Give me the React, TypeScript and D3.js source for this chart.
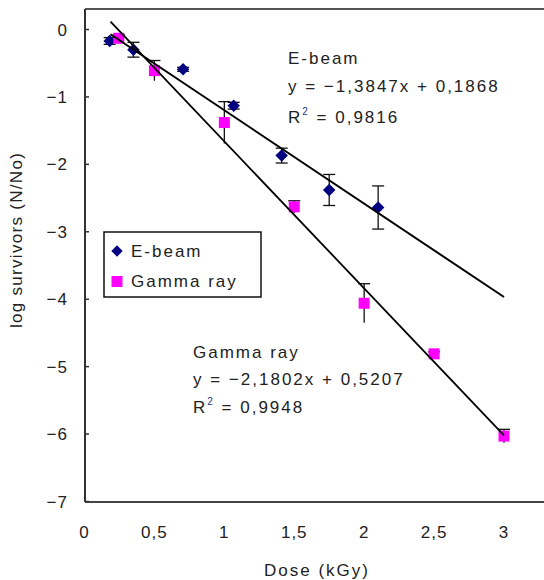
import React from "react";
import * as d3 from "d3";

const ebeamDose = [0.18, 0.35, 0.705, 1.067, 1.41, 1.75, 2.1];
const ebeamLog = [-0.17, -0.3, -0.59, -1.13, -1.87, -2.38, -2.64];
const ebeamErr = [0.05, 0.11, 0.03, 0.05, 0.11, 0.23, 0.32];

const gammaDose = [0.245, 0.5, 1.0, 1.5, 2.0, 2.5, 3.0];
const gammaLog = [-0.13, -0.61, -1.38, -2.63, -4.06, -4.81, -6.03];
const gammaErr = [0.05, 0.15, 0.31, 0.09, 0.29, 0.03, 0.1];

const xTicks = [0, 0.5, 1, 1.5, 2, 2.5, 3];
const xTickLabels = ["0", "0,5", "1", "1,5", "2", "2,5", "3"];
const yTicks = [0, -1, -2, -3, -4, -5, -6, -7];
const yTickLabels = ["0", "−1", "−2", "−3", "−4", "−5", "−6", "−7"];

const ebeamFit = { slope: -1.3847, intercept: 0.1868, r2: "0,9816", eq: "y = −1,3847x + 0,1868" };
const gammaFit = { slope: -2.1802, intercept: 0.5207, r2: "0,9948", eq: "y = −2,1802x + 0,5207" };
const fitRange = [0.186, 3.0];

export default function App() {
  const W = 544, H = 580;
  const x = d3.scaleLinear().domain([0, 3]).range([84.5, 504]);
  const y = d3.scaleLinear().domain([-7, 0]).range([501.5, 29.5]);
  const left = 85, top = 9, bottom = 502, right = 544;
  const font = "'Liberation Sans', Arial, sans-serif";
  const txt = "#222";
  const ls = 2;

  const fitLine = (f: { slope: number; intercept: number }) =>
    d3.line<number>().x((d) => x(d)).y((d) => y(f.slope * d + f.intercept))(fitRange) || "";

  const diamond = d3.symbol().type(d3.symbolSquare).size(78)() || "";

  return (
    <svg width={W} height={H} style={{ position: "absolute", left: 0, top: 0, background: "#fff" }}>
      {/* frame */}
      <line x1={left} x2={right} y1={top} y2={top} stroke="#555" strokeWidth={2} />
      <line x1={left} x2={right} y1={bottom} y2={bottom} stroke="#444" strokeWidth={2} />
      <line x1={left} x2={left} y1={top} y2={bottom} stroke="#333" strokeWidth={2} />

      {/* y ticks */}
      {yTicks.map((t, i) => (
        <g key={"y" + i}>
          <line x1={left} x2={left + 4} y1={y(t)} y2={y(t)} stroke="#333" strokeWidth={1.5} />
          <text x={68} y={y(t) + 6} textAnchor="end" fontFamily={font} fontSize={17} fill={txt} letterSpacing={1}>
            {yTickLabels[i]}
          </text>
        </g>
      ))}
      {/* x ticks labels */}
      {xTicks.map((t, i) => (
        <text key={"x" + i} x={x(t)} y={538} textAnchor="middle" fontFamily={font} fontSize={17} fill={txt} letterSpacing={1}>
          {xTickLabels[i]}
        </text>
      ))}

      {/* axis titles */}
      <text x={317} y={576} textAnchor="middle" fontFamily={font} fontSize={17} fill={txt} letterSpacing={ls}>
        Dose (kGy)
      </text>
      <text
        transform={`translate(22,240) rotate(-90)`}
        textAnchor="middle"
        fontFamily={font}
        fontSize={17}
        fill={txt}
        letterSpacing={1.3}
      >
        log survivors (N/No)
      </text>

      {/* error bars e-beam */}
      {ebeamDose.map((d, i) => {
        const cx = x(d), y1 = y(ebeamLog[i] + ebeamErr[i]), y2 = y(ebeamLog[i] - ebeamErr[i]);
        return (
          <g key={"ee" + i} stroke="#111" strokeWidth={1.3}>
            <line x1={cx} x2={cx} y1={y1} y2={y2} />
            <line x1={cx - 6} x2={cx + 6} y1={y1} y2={y1} />
            <line x1={cx - 6} x2={cx + 6} y1={y2} y2={y2} />
          </g>
        );
      })}
      {/* error bars gamma */}
      {gammaDose.map((d, i) => {
        const cx = x(d), y1 = y(gammaLog[i] + gammaErr[i]), y2 = y(gammaLog[i] - gammaErr[i]);
        return (
          <g key={"ge" + i} stroke="#111" strokeWidth={1.3}>
            <line x1={cx} x2={cx} y1={y1} y2={y2} />
            <line x1={cx - 6} x2={cx + 6} y1={y1} y2={y1} />
          </g>
        );
      })}

      {/* markers */}
      {ebeamDose.map((d, i) => (
        <path key={"em" + i} d={diamond} transform={`translate(${x(d)},${y(ebeamLog[i])}) rotate(45)`} fill="#000080" />
      ))}
      {gammaDose.map((d, i) => (
        <rect key={"gm" + i} x={x(d) - 5.5} y={y(gammaLog[i]) - 5.5} width={11} height={11} fill="#FF00FF" />
      ))}

      {/* trendlines */}
      <path d={fitLine(ebeamFit)} fill="none" stroke="#000" strokeWidth={2} />
      <path d={fitLine(gammaFit)} fill="none" stroke="#000" strokeWidth={1.8} />

      {/* annotations */}
      <g fontFamily={font} fontSize={17} fill={txt} letterSpacing={ls}>
        <text x={288} y={64}>E-beam</text>
        <text x={288} y={92}>{ebeamFit.eq}</text>
        <text x={288} y={123}>
          R<tspan fontSize={10} dy={-8} fill="#1a3a8a">2</tspan>
          <tspan dy={8}> = {ebeamFit.r2}</tspan>
        </text>
        <text x={193} y={358}>Gamma ray</text>
        <text x={193} y={385}>{gammaFit.eq}</text>
        <text x={193} y={413}>
          R<tspan fontSize={10} dy={-8} fill="#1a3a8a">2</tspan>
          <tspan dy={8}> = {gammaFit.r2}</tspan>
        </text>
      </g>

      {/* legend */}
      <rect x={104} y={232} width={157} height={65} fill="#fff" stroke="#111" strokeWidth={1.5} />
      <path d={d3.symbol().type(d3.symbolSquare).size(64)() || ""} transform="translate(117,251) rotate(45)" fill="#000080" />
      <text x={131} y={257} fontFamily={font} fontSize={17} fill={txt} letterSpacing={ls}>E-beam</text>
      <rect x={111.5} y={276} width={11} height={11} fill="#FF00FF" />
      <text x={131} y={287} fontFamily={font} fontSize={17} fill={txt} letterSpacing={ls}>Gamma ray</text>
    </svg>
  );
}
